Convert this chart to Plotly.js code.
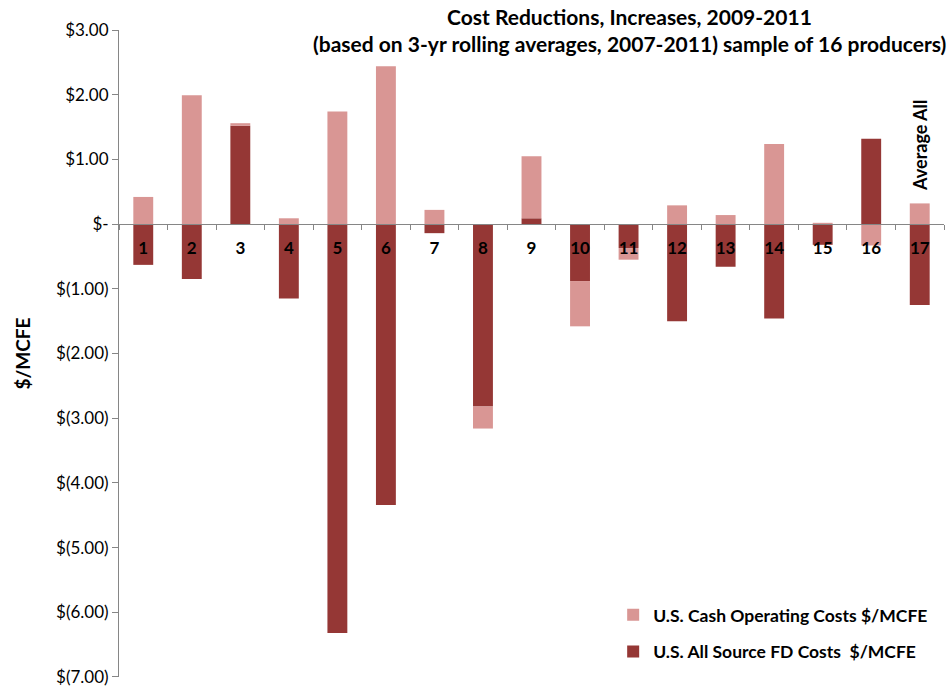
<!DOCTYPE html>
<html>
<head>
<meta charset="utf-8">
<script src="https://cdn.plot.ly/plotly-3.0.1.min.js"></script>
<style>html,body{margin:0;padding:0;background:#fff}#chart{width:950px;height:687px}</style>
</head>
<body>
<div id="chart"></div>
<script>
// Producers (category labels)
const producers = ['1','2','3','4','5','6','7','8','9','10','11','12','13','14','15','16','17'];
// U.S. All Source FD Costs $/MCFE (change)
const fdCosts = [-0.63,-0.85,1.52,-1.15,-6.32,-4.34,-0.14,-2.82,0.09,-0.88,-0.37,-1.50,-0.66,-1.46,-0.32,1.32,-1.25];
// U.S. Cash Operating Costs $/MCFE (change)
const cashCosts = [0.42,1.99,0.04,0.09,1.74,2.44,0.22,-0.34,0.96,-0.70,-0.18,0.29,0.14,1.24,0.02,-0.33,0.32];
// Y axis ticks
const yTickVals = [3,2,1,0,-1,-2,-3,-4,-5,-6,-7];
const yTickText = ['$3.00','$2.00','$1.00','$-','$(1.00)','$(2.00)','$(3.00)','$(4.00)','$(5.00)','$(6.00)','$(7.00)'];
const seriesNames = ['U.S. All Source FD Costs  $/MCFE','U.S. Cash Operating Costs $/MCFE'];
const titleLines = ['Cost Reductions, Increases, 2009-2011','(based on 3-yr rolling averages, 2007-2011) sample of 16 producers)'];
const avgLabel = 'Average All';
const avgIndex = producers.length - 1;

const FONT = 'Lato, "Open Sans", sans-serif';

const traces = [
  {type:'bar', x: producers, y: fdCosts, name: seriesNames[0], legendgroup:'fd', legendrank:2,
   marker:{color:'#953735', line:{width:0}}, hoverinfo:'x+y'},
  {type:'bar', x: producers, y: cashCosts, name: seriesNames[1], legendgroup:'cash', legendrank:1,
   marker:{color:'#D99694', line:{width:0}}, hoverinfo:'x+y'}
];

const layout = {
  width: 950, height: 687,
  margin: {l:119, r:6, t:30, b:10},
  paper_bgcolor:'#fff', plot_bgcolor:'#fff',
  barmode:'relative', bargap:0.59,
  font:{family:FONT, color:'#000'},
  xaxis:{type:'category', anchor:'free', position:0.7,
         range:[-0.5, producers.length - 0.5], autorange:false,
         showline:true, linecolor:'#868686', linewidth:1,
         ticks:'outside', tickson:'boundaries', ticklen:5, tickcolor:'#868686',
         ticklabelstandoff:8,
         tickfont:{family:FONT, size:17, weight:'bold', color:'#000'},
         showgrid:false, zeroline:false, fixedrange:true},
  yaxis:{range:[-7.0005,3.0005], autorange:false, tickvals:yTickVals, ticktext:yTickText,
         ticklabeloverflow:'allow',
         showline:true, linecolor:'#868686', linewidth:1,
         ticks:'outside', ticklen:6, tickcolor:'#868686',
         tickfont:{family:FONT, size:17, color:'#000'},
         showgrid:false, zeroline:false,
         title:{text:'$/MCFE', font:{family:FONT, size:19, weight:'bold', color:'#000'}, standoff:20}},
  legend:{x:0.599, xanchor:'left', y:0.011, yanchor:'bottom',
          traceorder:'grouped', tracegroupgap:11,
          font:{family:FONT, size:17.5, weight:'bold', color:'#000'},
          bgcolor:'rgba(0,0,0,0)'},
  annotations:[
    {x:0.619, y:1.0201, xref:'paper', yref:'paper', text:titleLines[0], showarrow:false,
     xanchor:'center', yanchor:'middle', font:{family:FONT, size:21, weight:'bold', color:'#000'}},
    {x:0.619, y:0.979, xref:'paper', yref:'paper', text:titleLines[1], showarrow:false,
     xanchor:'center', yanchor:'middle', font:{family:FONT, size:21, weight:'bold', color:'#000'}},
    {x: avgIndex, y: 1.22, xref:'x', yref:'y', text: avgLabel, textangle:-90,
     showarrow:false, xanchor:'center', yanchor:'middle',
     font:{family:FONT, size:18, weight:'bold', color:'#000'}}
  ],
  showlegend:true
};

Plotly.newPlot('chart', traces, layout, {displayModeBar:false, staticPlot:true});
</script>
</body>
</html>
